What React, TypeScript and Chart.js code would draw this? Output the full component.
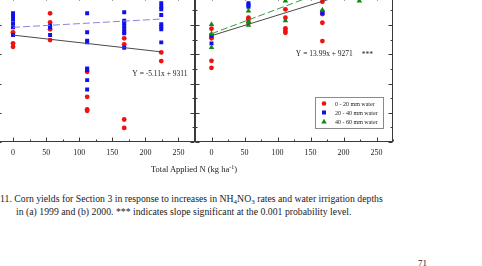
import React, { useEffect, useRef } from "react";
import { Chart, registerables } from "chart.js";

Chart.register(...registerables);

// Applied N rates (kg ha-1)
const N_RATES = [0, 56, 112, 168, 224];

// Labelled ticks on the N axis
const X_TICKS = [0, 50, 100, 150, 200, 250];

// Corn grain yield (kg ha-1), one list per N rate — 1999
const yield1999Low = [
  [9500, 8746, 8514],
  [10800, 10185, 9705, 8972],
  [6803, 5090, 4225, 4130],
  [9089, 8678, 3540, 2965],
  [8130, 7534],
];
const yield1999Mid = [
  [10800, 10640, 10410, 10116, 9842, 9315],
  [9952, 9842, 9315],
  [10800, 9500, 8925, 8815, 7034, 6918, 6232, 5595],
  [10870, 10295, 10137, 9952, 9747, 9542, 9430, 8445],
  [11486, 11254, 11075, 10685, 10048, 9884, 9705, 8815],
];

// Corn grain yield (kg ha-1), one list per N rate — 2000
const yield2000Low = [
  [9750, 9089, 7555, 7075],
  [10500, 10390, 10160],
  [11075, 10500, 9774, 9610, 9473],
  [11600, 10753, 10158, 8904],
  [12300, 12700],
];
const yield2000Mid = [
  [9315, 9246, 8746],
  [11500, 11370, 11254],
  [12100, 12500],
  [10911, 10800],
  [12600, 13100],
];
const yield2000High = [
  [10048, 9400, 8473],
  [10960, 10226, 10000],
  [11644, 10295, 12400],
  [11027, 12300],
  [11650, 12900],
];

// Fitted lines: [slope, intercept]
const FIT_1999 = [-5.11, 9311];
const FIT_1999_MID = [2.54, 9842];
const FIT_2000 = [13.99, 9271];
const FIT_2000_HIGH = [16.9, 9404];

const SERIES_NAMES = ["0 - 20 mm water", "20 - 40 mm water", "40 - 60 mm water"];

const SERIF = '"Liberation Serif", "Times New Roman", serif';
const AXIS_COLOR = "#3a3a3a";
const RED = "#f01010";
const BLUE = "#1010e8";
const GREEN = "#108a10";

const toPoints = (rows: number[][]) =>
  rows.flatMap((ys, i) => ys.map((y) => ({ x: N_RATES[i], y })));

const fitLine = ([m, b]: number[]) =>
  [N_RATES[0], N_RATES[N_RATES.length - 1]].map((x) => ({ x, y: m * x + b }));

const marker = (name: number) => {
  if (name === 0) return { pointStyle: "circle", pointRadius: 2.4, pointBackgroundColor: RED, color: RED };
  if (name === 1) return { pointStyle: "rect", pointRadius: 2.8, pointBackgroundColor: BLUE, color: BLUE };
  return { pointStyle: "triangle", pointRadius: 3.2, pointBackgroundColor: GREEN, color: GREEN };
};

const scatterSet = (idx: number, rows: number[][]) => {
  const m = marker(idx);
  return {
    type: "scatter" as const,
    label: SERIES_NAMES[idx],
    data: toPoints(rows),
    pointStyle: m.pointStyle,
    pointRadius: m.pointRadius,
    pointBackgroundColor: m.pointBackgroundColor,
    pointBorderWidth: 0,
    borderColor: m.color,
    backgroundColor: m.color,
    showLine: false,
    order: 3 - idx,
  };
};

const lineSet = (fit: number[], color: string, dash: number[]) => ({
  type: "line" as const,
  label: "",
  data: fitLine(fit),
  borderColor: color,
  borderWidth: 1,
  borderDash: dash,
  pointRadius: 0,
  fill: false,
  order: -1,
});

// Box with inward ticks on every side
const framePlugin = {
  id: "frame",
  afterDatasetsDraw(chart: any) {
    const { ctx, chartArea: a, scales } = chart;
    const xs = scales.x;
    const ys = scales.y;
    const L = Math.round(a.left) + 0.5;
    const R = Math.round(a.right) - 0.5;
    const T = Math.round(a.top) + 0.5;
    const B = Math.round(a.bottom) - 0.5;
    ctx.save();
    ctx.strokeStyle = AXIS_COLOR;
    ctx.lineWidth = 1;
    ctx.strokeRect(L, T, R - L, B - T);
    ctx.beginPath();
    for (let v = xs.min; v <= xs.max; v += 25) {
      const px = Math.round(xs.getPixelForValue(v)) + 0.5;
      const len = v % 50 === 0 ? 4 : 2;
      ctx.moveTo(px, B);
      ctx.lineTo(px, B - len);
      ctx.moveTo(px, T);
      ctx.lineTo(px, T + len);
    }
    for (let v = ys.min; v <= ys.max; v += 1000) {
      const py = Math.round(ys.getPixelForValue(v)) + 0.5;
      const len = v % 2000 === 0 ? 4 : 2;
      ctx.moveTo(L, py);
      ctx.lineTo(L + len, py);
      ctx.moveTo(R, py);
      ctx.lineTo(R - len, py);
    }
    ctx.stroke();
    ctx.restore();
  },
};

// Regression equations placed in data coordinates
const notesPlugin = {
  id: "notes",
  afterDatasetsDraw(chart: any, _args: any, opts: any) {
    const items = opts.items || [];
    const { ctx, scales } = chart;
    ctx.save();
    ctx.fillStyle = "#222";
    ctx.font = `7.5px ${SERIF}`;
    ctx.textBaseline = "middle";
    ctx.textAlign = "center";
    for (const it of items) {
      ctx.fillText(it.text, scales.x.getPixelForValue(it.x), scales.y.getPixelForValue(it.y));
    }
    ctx.restore();
  },
};

// Boxed key in the lower right of the plot
const keyPlugin = {
  id: "key",
  afterDatasetsDraw(chart: any, _args: any, opts: any) {
    if (!opts.show) return;
    const { ctx, chartArea: a } = chart;
    const sets = chart.data.datasets.filter((d: any) => d.type === "scatter");
    const w = 68;
    const h = 31;
    const right = Math.round(a.right) - 10;
    const bottom = Math.round(a.bottom) - 14;
    const left = right - w;
    const top = bottom - h;
    ctx.save();
    ctx.fillStyle = "#fff";
    ctx.fillRect(left, top, w, h);
    ctx.strokeStyle = "#8a8a8a";
    ctx.lineWidth = 1;
    ctx.strokeRect(left + 0.5, top + 0.5, w, h);
    ctx.font = `6px ${SERIF}`;
    ctx.textBaseline = "middle";
    ctx.textAlign = "left";
    sets.forEach((d: any, i: number) => {
      const cy = top + 6.5 + i * 9;
      const cx = left + 9;
      ctx.fillStyle = d.pointBackgroundColor;
      ctx.beginPath();
      if (d.pointStyle === "circle") {
        ctx.arc(cx, cy, 2.3, 0, Math.PI * 2);
      } else if (d.pointStyle === "rect") {
        ctx.rect(cx - 2, cy - 2, 4, 4);
      } else {
        ctx.moveTo(cx, cy - 2.8);
        ctx.lineTo(cx + 2.8, cy + 2);
        ctx.lineTo(cx - 2.8, cy + 2);
        ctx.closePath();
      }
      ctx.fill();
      ctx.fillStyle = "#222";
      ctx.fillText(d.label, left + 20, cy + 0.5);
    });
    ctx.restore();
  },
};

type PanelProps = {
  left: number;
  padLeft: number;
  padRight: number;
  datasets: any[];
  notes: { text: string; x: number; y: number }[];
  showKey: boolean;
};

const CANVAS_W = 240;
const CANVAS_H = 200;

function Panel({ left, padLeft, padRight, datasets, notes, showKey }: PanelProps) {
  const ref = useRef<HTMLCanvasElement | null>(null);
  useEffect(() => {
    if (!ref.current) return;
    const chart = new Chart(ref.current, {
      type: "scatter",
      data: { datasets },
      plugins: [framePlugin, notesPlugin, keyPlugin],
      options: {
        responsive: false,
        animation: false,
        devicePixelRatio: 1,
        layout: { padding: { left: padLeft, right: padRight, top: 15.8, bottom: 18 } },
        plugins: {
          legend: { display: false },
          tooltip: { enabled: false },
          notes: { items: notes },
          key: { show: showKey },
        } as any,
        scales: {
          x: {
            type: "linear",
            min: -25,
            max: 275,
            grid: { display: false, drawTicks: false },
            border: { display: false },
            ticks: {
              stepSize: 25,
              autoSkip: false,
              maxRotation: 0,
              padding: 6,
              color: "#222",
              font: { family: SERIF, size: 8 },
              callback: (v: any) => (X_TICKS.includes(Number(v)) ? String(v) : ""),
            },
            afterFit: (s: any) => {
              s.height = 20;
            },
          },
          y: {
            type: "linear",
            display: false,
            min: 2000,
            max: 12000,
            ticks: { stepSize: 1000 },
          },
        },
      } as any,
    });
    return () => chart.destroy();
  }, []);
  return (
    <canvas
      ref={ref}
      width={CANVAS_W}
      height={CANVAS_H}
      style={{ position: "absolute", left, top: -20, width: CANVAS_W, height: CANVAS_H }}
    />
  );
}

const text: React.CSSProperties = {
  position: "absolute",
  fontFamily: SERIF,
  color: "#222",
  whiteSpace: "nowrap",
  margin: 0,
};

const subStyle: React.CSSProperties = { fontSize: 7, verticalAlign: "-2px", lineHeight: 0 };

export default function App() {
  const sets1999 = [
    scatterSet(0, yield1999Low),
    scatterSet(1, yield1999Mid),
    lineSet(FIT_1999, "#4a4a4a", []),
    lineSet(FIT_1999_MID, "#8a86e0", [7, 3]),
  ];
  const sets2000 = [
    scatterSet(0, yield2000Low),
    scatterSet(1, yield2000Mid),
    scatterSet(2, yield2000High),
    lineSet(FIT_2000, "#4a4a4a", []),
    lineSet(FIT_2000_HIGH, "#3a9a3a", [7, 3]),
  ];
  return (
    <div
      style={{
        position: "fixed",
        left: 0,
        top: 0,
        width: 482,
        height: 266,
        overflow: "hidden",
        background: "#fff",
      }}
    >
      <Panel
        left={-20}
        padLeft={16.5}
        padRight={25}
        datasets={sets1999}
        notes={[{ text: "Y = -5.11x + 9311", x: 222, y: 6640 }]}
        showKey={false}
      />
      <Panel
        left={175}
        padLeft={20}
        padRight={22}
        datasets={sets2000}
        notes={[
          { text: "Y = 13.99x + 9271", x: 171, y: 8010 },
          { text: "***", x: 236, y: 7950 },
        ]}
        showKey={true}
      />
      <div style={{ ...text, left: 194, top: 163, fontSize: 8.5, lineHeight: "12px", transform: "translateX(-50%)" }}>
        Total Applied N (kg ha<sup style={{ fontSize: 6, verticalAlign: "3px", lineHeight: 0 }}>-1</sup>)
      </div>
      <div style={{ ...text, left: 0, top: 193, fontSize: 9.75, lineHeight: "12px" }}>
        11. Corn yields for Section 3 in response to increases in NH
        <sub style={subStyle}>4</sub>NO
        <sub style={subStyle}>3</sub> rates and water irrigation depths
      </div>
      <div style={{ ...text, left: 16, top: 206, fontSize: 9.75, lineHeight: "12px" }}>
        in (a) 1999 and (b) 2000. *** indicates slope significant at the 0.001 probability level.
      </div>
      <div style={{ ...text, left: 418, top: 257, fontSize: 9, lineHeight: "12px" }}>71</div>
    </div>
  );
}
